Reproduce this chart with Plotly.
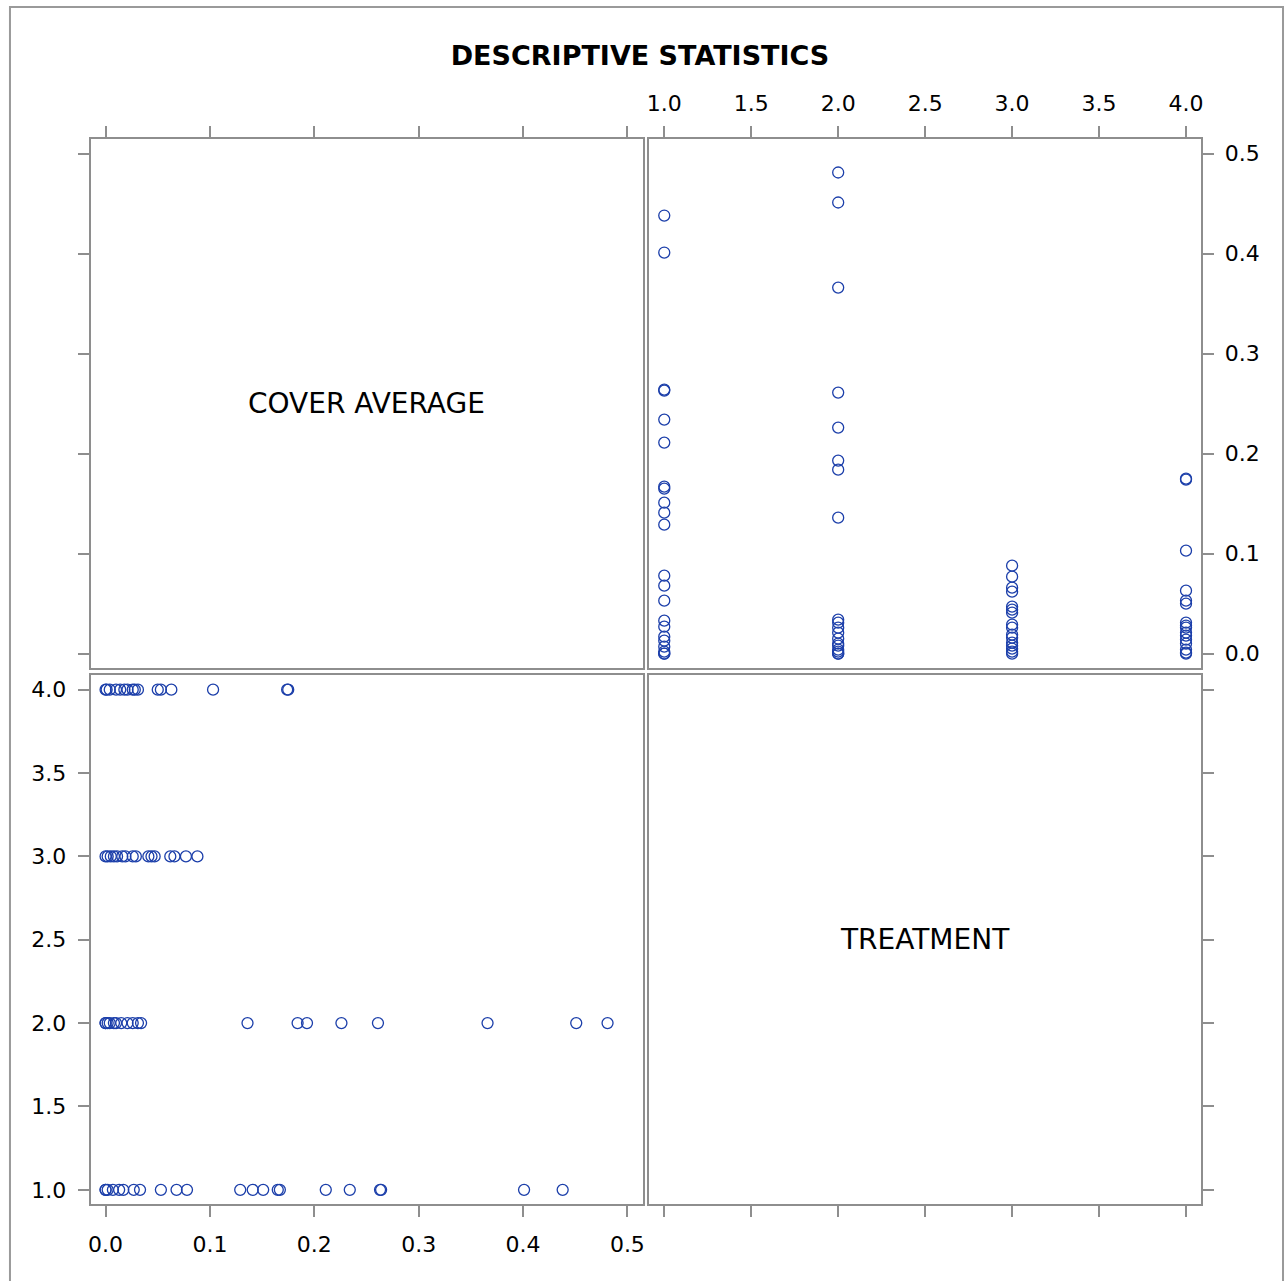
import plotly.graph_objects as go

# ---- data ----
treatment_levels = [1, 2, 3, 4]
cover_t1 = [0.438, 0.401, 0.264, 0.263, 0.234, 0.211, 0.167, 0.165, 0.151, 0.141, 0.129,
            0.078, 0.068, 0.053, 0.033, 0.027, 0.017, 0.013, 0.007, 0.002, 0.0, 0.0]
cover_t2 = [0.481, 0.451, 0.366, 0.261, 0.226, 0.193, 0.184, 0.136, 0.034, 0.031, 0.026,
            0.021, 0.015, 0.010, 0.008, 0.004, 0.002, 0.0, 0.0]
cover_t3 = [0.088, 0.077, 0.066, 0.062, 0.047, 0.044, 0.041, 0.029, 0.026, 0.019, 0.016,
            0.011, 0.008, 0.005, 0.002, 0.0]
cover_t4 = [0.175, 0.174, 0.103, 0.063, 0.053, 0.050, 0.031, 0.028, 0.026, 0.021, 0.018,
            0.014, 0.010, 0.004, 0.001, 0.0]
cover_ticks = [0.0, 0.1, 0.2, 0.3, 0.4, 0.5]
treat_ticks = [1.0, 1.5, 2.0, 2.5, 3.0, 3.5, 4.0]
var_names = ["COVER AVERAGE", "TREATMENT"]
title_text = "DESCRIPTIVE STATISTICS"

cover = []
treat = []
for lvl, vals in zip(treatment_levels, [cover_t1, cover_t2, cover_t3, cover_t4]):
    cover.extend(vals)
    treat.extend([lvl] * len(vals))

W, H = 1288, 1281
xL = [88 / W, 642 / W]
xR = [649 / W, 1203 / W]
yT = [1 - 668 / H, 1 - 139 / H]
yB = [1 - 1204 / H, 1 - 675 / H]

cover_range = [-0.0143, 0.5145]
treat_range = [0.915, 4.088]

MARK = "#1C3FAA"
GRAY = "#8E8E8E"
FONT = "DejaVu Sans"

marker = dict(symbol="circle-open", size=11, color=MARK, line=dict(width=1.3, color=MARK))

fig = go.Figure()
# bottom-left: x = cover, y = treatment
fig.add_trace(go.Scatter(x=cover, y=treat, mode="markers", marker=marker,
                         xaxis="x", yaxis="y", showlegend=False, hoverinfo="x+y"))
# top-right: x = treatment, y = cover
fig.add_trace(go.Scatter(x=treat, y=cover, mode="markers", marker=marker,
                         xaxis="x2", yaxis="y2", showlegend=False, hoverinfo="x+y"))
# diagonal panels (empty, for axes)
fig.add_trace(go.Scatter(x=[None], y=[None], xaxis="x3", yaxis="y3", showlegend=False))
fig.add_trace(go.Scatter(x=[None], y=[None], xaxis="x4", yaxis="y4", showlegend=False))

common = dict(showgrid=False, zeroline=False, showline=True, mirror=True,
              linecolor=GRAY, linewidth=2, ticks="outside", ticklen=11,
              tickwidth=2, tickcolor=GRAY, tickfont=dict(family=FONT, size=22, color="black"))

cover_tick_text = [f"{v:.1f}" for v in cover_ticks]
treat_tick_text = [f"{v:.1f}" for v in treat_ticks]

fig.update_layout(
    width=W, height=H,
    margin=dict(l=0, r=0, t=0, b=0),
    paper_bgcolor="white", plot_bgcolor="white",
    font=dict(family=FONT, color="black"),
    title=dict(text=f"<b>{title_text}</b>", x=640 / W, xanchor="center",
               y=1 - 56 / H, yanchor="middle",
               font=dict(family=FONT, size=27, color="black")),
    xaxis=dict(domain=xL, anchor="y", side="bottom", range=cover_range,
               tickvals=cover_ticks, ticktext=cover_tick_text, ticklabelstandoff=9, **common),
    yaxis=dict(domain=yB, anchor="x", side="left", range=treat_range,
               tickvals=treat_ticks, ticktext=treat_tick_text, ticklabelstandoff=7, **common),
    xaxis2=dict(domain=xR, anchor="y2", side="top", range=treat_range,
                tickvals=treat_ticks, ticktext=treat_tick_text, ticklabelstandoff=6, **common),
    yaxis2=dict(domain=yT, anchor="x2", side="right", range=cover_range,
                tickvals=cover_ticks, ticktext=cover_tick_text, ticklabelstandoff=6, **common),
    xaxis3=dict(domain=xL, anchor="y3", side="top", range=cover_range,
                tickvals=cover_ticks, showticklabels=False, **common),
    yaxis3=dict(domain=yT, anchor="x3", side="left", range=cover_range,
                tickvals=cover_ticks, showticklabels=False, **common),
    xaxis4=dict(domain=xR, anchor="y4", side="bottom", range=treat_range,
                tickvals=treat_ticks, showticklabels=False, **common),
    yaxis4=dict(domain=yB, anchor="x4", side="right", range=treat_range,
                tickvals=treat_ticks, showticklabels=False, **common),
    annotations=[
        dict(text=var_names[0], xref="x3 domain", yref="y3 domain", x=0.5, y=0.5,
             showarrow=False, font=dict(family=FONT, size=28, color="black")),
        dict(text=var_names[1], xref="x4 domain", yref="y4 domain", x=0.5, y=0.5,
             showarrow=False, font=dict(family=FONT, size=28, color="black")),
    ],
    shapes=[
        dict(type="rect", xref="paper", yref="paper", x0=7 / W, x1=1285 / W,
             y0=-0.02, y1=1 - 7 / H, line=dict(color="#9A9A9A", width=2),
             fillcolor="rgba(0,0,0,0)", layer="below"),
    ],
)

fig.write_html("out.html", config={"displayModeBar": False},
               post_script="document.body.style.margin='0';document.body.style.overflow='hidden';")
